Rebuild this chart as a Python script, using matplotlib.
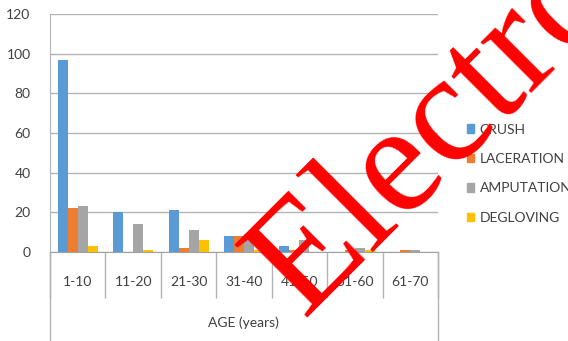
import numpy as np
import matplotlib
matplotlib.use("Agg")
import matplotlib.pyplot as plt
from matplotlib.lines import Line2D
from matplotlib.patches import Patch

ages = ["1-10", "11-20", "21-30", "31-40", "41-50", "51-60", "61-70"]
crush = [97, 20, 21, 8, 3, 0, 0]
laceration = [22, 0, 2, 8, 1, 1, 1]
amputation = [23, 14, 11, 9, 6, 2, 1]
degloving = [3, 1, 6, 1, 0, 1, 0]
series_names = ["CRUSH", "LACERATION", "AMPUTATION", "DEGLOVING"]
colors = ["#5B9BD5", "#ED7D31", "#A5A5A5", "#FFC000"]

W, H = 568, 341
txt = "#404040"
plt.rcParams["font.family"] = ["Lato", "DejaVu Sans"]

fig = plt.figure(figsize=(W / 100, H / 100), dpi=100)
ax = fig.add_axes([50 / W, 1 - 252 / H, (438 - 50) / W, (252 - 14) / H])

x = np.arange(len(ages)) + 0.5
bw = 0.18
for i, (vals, c) in enumerate(zip([crush, laceration, amputation, degloving], colors)):
    ax.bar(x + (i - 1.5) * bw, vals, bw, color=c, zorder=3)

ax.set_xlim(0, 7)
ax.set_ylim(0, 120)
ax.set_yticks(range(0, 121, 20))
ax.grid(axis="y", color="#b3b3b3", lw=1, zorder=0)
for s in ["top", "right"]:
    ax.spines[s].set_visible(False)
ax.spines["left"].set_color("#b3b3b3")
ax.spines["bottom"].set_color("#a0a0a0")
ax.tick_params(axis="y", length=0, pad=14, labelsize=10, labelcolor=txt)

ax.set_xticks(x)
ax.set_xticklabels(ages)
ax.tick_params(axis="x", which="major", length=0, pad=17, labelsize=10, labelcolor=txt)
ax.set_xticks(np.arange(0, 8), minor=True)
ax.tick_params(axis="x", which="minor", length=33, width=1, color="#b3b3b3", direction="out")

# long vertical border lines below the axis
fig.add_artist(Line2D([50 / W] * 2, [0, 1 - 252 / H], color="#b3b3b3", lw=1))
fig.add_artist(Line2D([438 / W] * 2, [0, 1 - 252 / H], color="#b3b3b3", lw=1))

fig.text(243 / W, 1 - 323 / H, "AGE (years)", ha="center", va="center", fontsize=10, color=txt)

handles = [Patch(color=c) for c in colors]
fig.legend(handles, series_names, loc="upper left", bbox_to_anchor=(461 / W, 1 - 118 / H),
           frameon=False, fontsize=10, handlelength=0.55, handleheight=0.55,
           handletextpad=0.4, labelspacing=1.25, borderaxespad=0, labelcolor=txt)

# watermark
fig.text(303 / W, 1 - 318 / H, "Electro", rotation=45, rotation_mode="anchor",
         ha="left", va="baseline", fontsize=112, family="Liberation Serif", color="red", zorder=10)

fig.savefig("out.png", dpi=100)
